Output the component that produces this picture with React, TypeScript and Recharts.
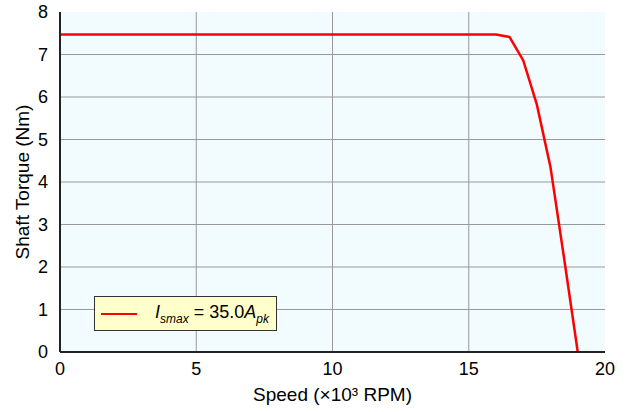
import React from "react";
import {
  LineChart,
  Line,
  CartesianGrid,
  XAxis,
  YAxis,
  Legend,
} from "recharts";

// speed in 10^3 RPM
const speed = [0, 2, 4, 6, 8, 10, 12, 14, 16, 16.5, 17, 17.5, 18, 18.5, 19];
// shaft torque in Nm
const torque = [7.47, 7.47, 7.47, 7.47, 7.47, 7.47, 7.47, 7.47, 7.47, 7.41, 6.86, 5.82, 4.35, 2.2, 0];

const xTicks = [0, 5, 10, 15, 20];
const yTicks = [0, 1, 2, 3, 4, 5, 6, 7, 8];

const data = speed.map((s, i) => ({ speed: s, torque: torque[i] }));

const font = "'Liberation Sans', Arial, sans-serif";

const LegendBox = () => (
  <div
    style={{
      width: 181,
      height: 33,
      border: "1px solid #333",
      background: "#ffffcc",
      display: "flex",
      alignItems: "center",
      fontFamily: font,
      fontSize: 18,
      color: "#000",
    }}
  >
    <svg width={48} height={10} style={{ marginLeft: 6 }}>
      <line x1={0} y1={5} x2={36} y2={5} stroke="#ff0000" strokeWidth={2} />
    </svg>
    <span style={{ marginLeft: 6 }}>
      <i>I</i>
      <sub style={{ fontSize: 12, fontStyle: "italic" }}>smax</sub> = 35.0
      <i>A</i>
      <sub style={{ fontSize: 12, fontStyle: "italic" }}>pk</sub>
    </span>
  </div>
);

export default function App() {
  return (
    <div style={{ position: "absolute", left: 0, top: 0, background: "#fff" }}>
      <LineChart
        width={630}
        height={412}
        data={data}
        margin={{ top: 12, right: 25, bottom: 0, left: 0 }}
      >
        <CartesianGrid
          stroke="#999"
          strokeWidth={1}
          fill="#f2fbfd"
          verticalValues={[5, 10, 15]}
          horizontalValues={[1, 2, 3, 4, 5, 6, 7]}
        />
        <XAxis
          dataKey="speed"
          type="number"
          domain={[0, 20]}
          ticks={xTicks}
          tickLine={false}
          axisLine={{ stroke: "#222", strokeWidth: 2 }}
          height={60}
          tick={{ fill: "#000", fontSize: 18, fontFamily: font }}
          tickMargin={4}
          label={{
            value: "Speed (×10³ RPM)",
            position: "insideBottom",
            offset: 11,
            fill: "#000",
            fontSize: 19,
            fontFamily: font,
          }}
        />
        <XAxis
          xAxisId="top"
          orientation="top"
          type="number"
          domain={[0, 20]}
          ticks={xTicks}
          tick={false}
          tickLine={false}
          height={0}
          axisLine={{ stroke: "#222", strokeWidth: 2 }}
        />
        <YAxis
          type="number"
          domain={[0, 8]}
          ticks={yTicks}
          tickLine={false}
          width={60}
          axisLine={{ stroke: "#222", strokeWidth: 2 }}
          tick={{ fill: "#000", fontSize: 18, fontFamily: font }}
          tickMargin={6}
          label={{
            value: "Shaft Torque (Nm)",
            angle: -90,
            position: "insideLeft",
            offset: 22,
            style: { textAnchor: "middle" },
            fill: "#000",
            fontSize: 19,
            fontFamily: font,
          }}
        />
        <YAxis
          yAxisId="right"
          orientation="right"
          type="number"
          domain={[0, 8]}
          tick={false}
          tickLine={false}
          width={0}
          axisLine={{ stroke: "#222", strokeWidth: 2 }}
        />
        <Line
          dataKey="torque"
          stroke="#ff0000"
          strokeWidth={2.5}
          dot={false}
          isAnimationActive={false}
        />
        <Legend
          layout="vertical"
          align="center"
          verticalAlign="middle"
          content={<LegendBox />}
          wrapperStyle={{ position: "absolute", left: 94, top: 296, width: "auto" }}
        />
      </LineChart>
    </div>
  );
}
